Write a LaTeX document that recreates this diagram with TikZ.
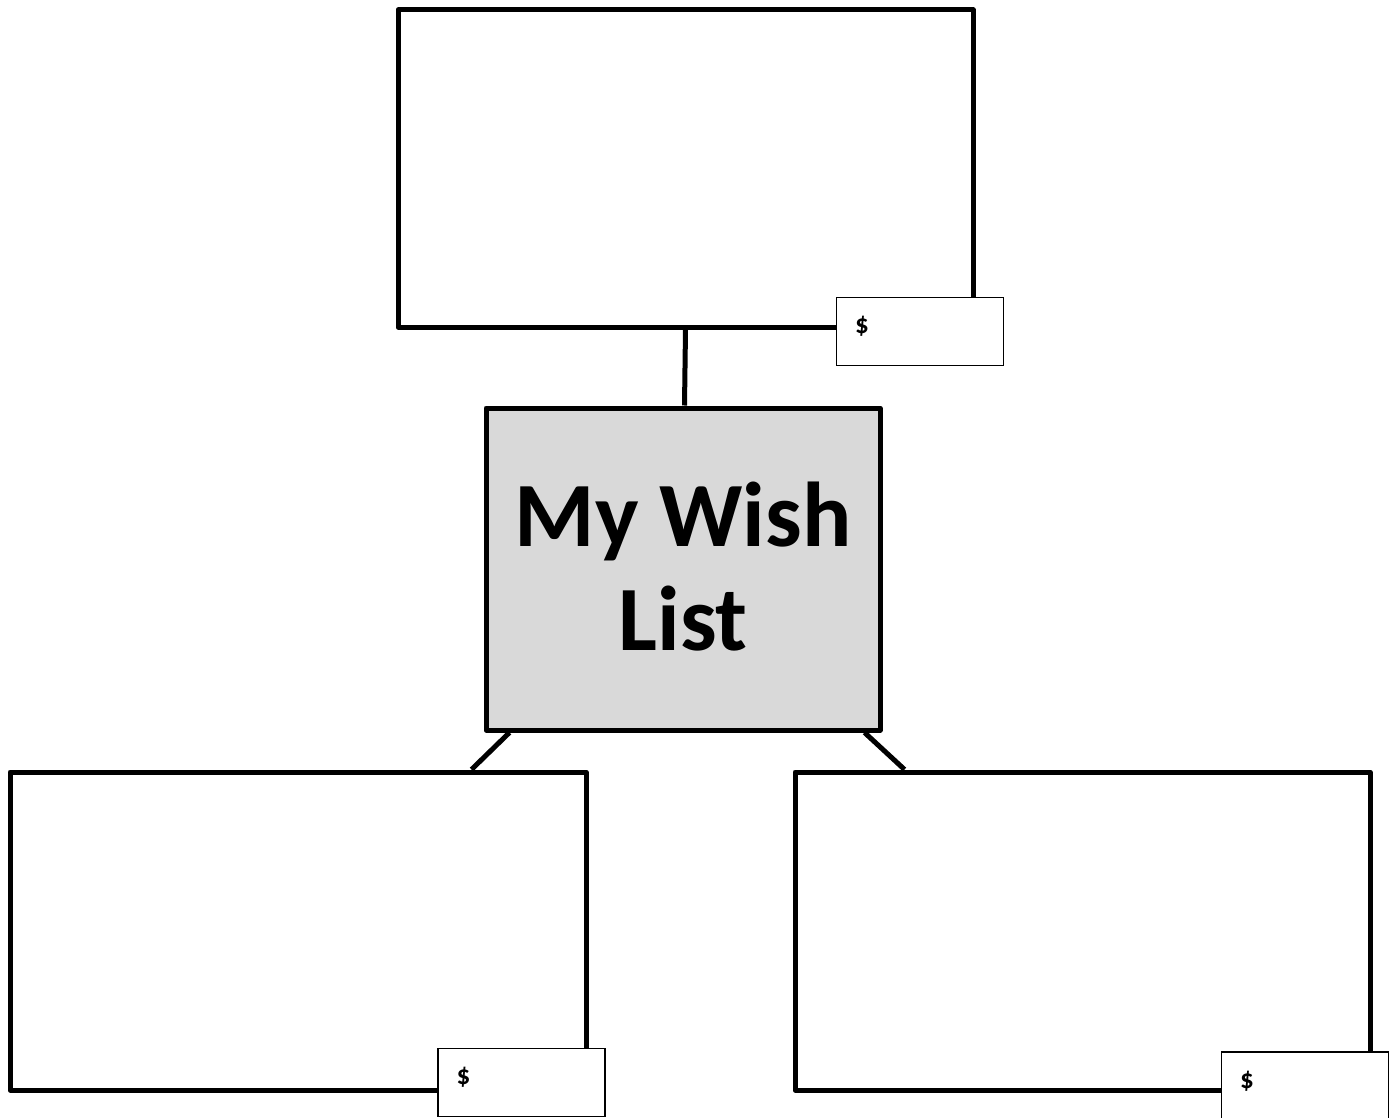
\documentclass[tikz,border=0pt]{standalone}
\usepackage{fontspec}
\setmainfont{Carlito}
\usetikzlibrary{calc}
\tikzset{
  bigbox/.style={draw=black, line width=5pt, line join=round, fill=white, rectangle, inner sep=0pt, minimum width=#1},
  bigbox/.default=575pt,
  pricebox/.style={draw=black, line width=1.1pt, fill=white, rectangle, inner sep=0pt, minimum width=167pt, minimum height=68pt},
  dollar/.style={anchor=west, inner sep=0pt, font=\fontsize{27}{32}\selectfont\bfseries},
  link/.style={draw=black, line width=5pt}
}
\begin{document}
\begin{tikzpicture}[x=1pt,y=-1pt]
\useasboundingbox (0,0) rectangle (1395,1118);
\node[bigbox=575pt, minimum height=317pt] (top) at (685.5,168.5) {};
\node[bigbox=394pt, minimum height=322pt, fill={rgb,255:red,217;green,217;blue,217}, align=center,
      text depth=6pt, font=\fontsize{92}{104}\selectfont\bfseries] (wish) at (683,569) {My Wish\\List};
\node[bigbox=576pt, minimum height=318pt] (left) at (298,931) {};
\node[bigbox=575pt, minimum height=318pt] (right) at (1082.5,931) {};
\draw[link] (top.south) -- ($(wish.north)+(1.5,0)$);
\draw[link] ($(wish.south west)+(26,0)$) -- ($(left.north east)+(-117,0)$);
\draw[link] ($(wish.south east)+(-18,0)$) -- ($(right.north west)+(112,0)$);
\node[pricebox] (tp) at (920,331.5) {};
\node[dollar] (tpd) at ($(tp.west)+(19,-5)$) {\$};
\node[pricebox] (lp) at (521.5,1082.5) {};
\node[dollar] (lpd) at ($(lp.west)+(19,-5)$) {\$};
\node[pricebox] (rp) at (1305,1086) {};
\node[dollar] (rpd) at ($(rp.west)+(19,-5)$) {\$};
\end{tikzpicture}
\end{document}
